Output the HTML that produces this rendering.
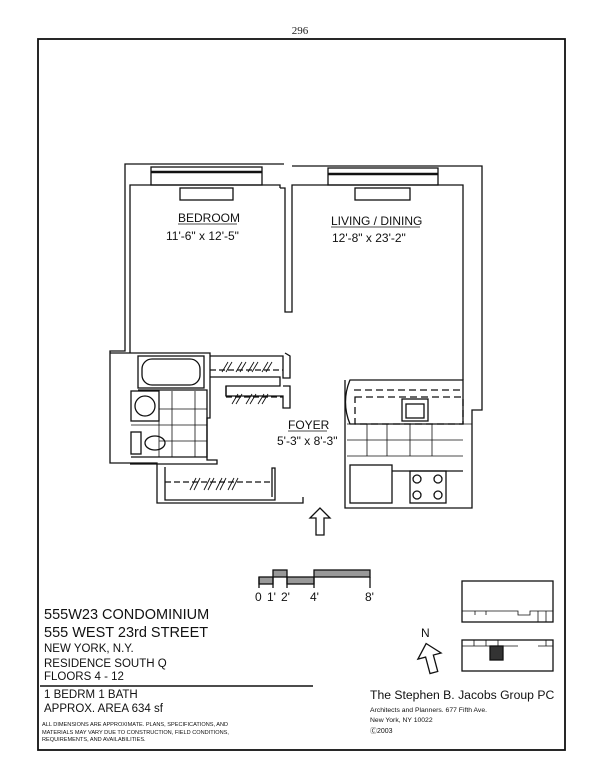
<!DOCTYPE html>
<html><head><meta charset="utf-8"><style>
body{margin:0;background:#fff;width:600px;height:776px;overflow:hidden;font-family:"Liberation Sans",sans-serif}
svg{position:absolute;left:0;top:0}
</style></head><body>
<svg width="600" height="776" viewBox="0 0 600 776" font-family="Liberation Sans, sans-serif" fill="none" stroke="#111" stroke-width="1.3">
<text x="300" y="34" font-family="Liberation Serif, serif" font-size="11" fill="#222" stroke="none" text-anchor="middle">296</text>
<rect x="38" y="39" width="527" height="711" stroke-width="1.8"/>
<polyline points="284,164 125,164 125,351 110,351 110,463 157,463 157,503 303,503 303,497"/>
<polyline points="345,380 345,508 472,508 472,410 482,410 482,166 292,166"/>
<polyline points="280,188 280,185 130,185 130,353"/>
<polyline points="292,188 292,185 463,185 463,380"/>
<polyline points="280,188 285,188 285,312 292,312 292,188"/>
<rect x="151" y="167" width="111" height="18"/>
<line x1="151" y1="172" x2="262" y2="172" stroke-width="2.5"/>
<rect x="328" y="168" width="110" height="17"/>
<line x1="328" y1="174" x2="438" y2="174" stroke-width="2.5"/>
<rect x="180" y="188" width="53" height="12"/>
<rect x="355" y="188" width="55" height="12"/>
<polyline points="110,353 210,353 210,418 207,418 207,460 217,460 217,464 130,464"/>
<rect x="138" y="356" width="66" height="32"/>
<rect x="142" y="359" width="58" height="26" rx="10"/>
<polyline points="138,390 207,390 207,457 131,457"/>
<rect x="131" y="391" width="28" height="30"/>
<circle cx="145" cy="406" r="10"/>
<rect x="131" y="432" width="10" height="22"/>
<ellipse cx="155" cy="443" rx="10" ry="7"/>
<path d="M159 395V457M172 391V457M195 391V457M159 409H207M131 425H207M159 441H207" stroke-width="0.8"/>
<polyline points="210,356 283,356 283,378 290,378 290,356 285,353"/>
<line x1="210" y1="370" x2="283" y2="370" stroke-dasharray="6,3"/>
<polyline points="210,377 280,377 280,386 226,386 226,396"/>
<polyline points="226,386 226,396 283,396 283,408 290,408 290,386 283,386"/>
<line x1="226" y1="397" x2="283" y2="397" stroke-dasharray="6,3"/>
<polyline points="165,467 165,500 275,500 275,468 272,468 272,497"/>
<line x1="165" y1="482" x2="270" y2="482" stroke-dasharray="6,3"/>
<path d="M222 372l6-10M226 372l6-10M236 372l6-10M240 372l6-10M248 372l6-10M252 372l6-10M262 372l6-10M266 372l6-10M232 404l6-10M236 404l6-10M246 404l6-10M250 404l6-10M258 404l6-10M262 404l6-10M190 490l6-12M194 490l6-12M204 490l6-12M208 490l6-12M216 490l6-12M220 490l6-12M228 490l6-12M232 490l6-12" stroke-width="0.9"/>
<path d="M350 380H463V424H350C344 410 344 394 350 380Z"/>
<line x1="354" y1="390" x2="463" y2="390" stroke-dasharray="7,4"/>
<rect x="355" y="397" width="108" height="27" stroke-dasharray="7,4"/>
<rect x="402" y="399" width="26" height="22"/>
<rect x="406" y="404" width="18" height="14"/>
<path d="M347 424H472M347 440H463M347 456H463M367 424V456M387 424V456M410 424V456M432 424V456" stroke-width="0.8"/>
<rect x="350" y="465" width="42" height="38"/>
<rect x="410" y="471" width="36" height="32"/>
<circle cx="417" cy="479" r="4"/><circle cx="438" cy="479" r="4"/>
<circle cx="417" cy="495" r="4"/><circle cx="438" cy="495" r="4"/>
<line x1="392" y1="471" x2="463" y2="471"/>
<path d="M320 508L310 518H316V535H324V518H330Z"/>
<g fill="#111" stroke="none" font-size="12">
<text x="178" y="222">BEDROOM</text>
<text x="166" y="240">11'-6" x 12'-5"</text>
<text x="331" y="225">LIVING / DINING</text>
<text x="332" y="242">12'-8" x 23'-2"</text>
<text x="288" y="429">FOYER</text>
<text x="277" y="445">5'-3" x 8'-3"</text>
</g>
<path d="M178 224H237M331 227H420M288 431H327" stroke-width="0.8"/>
<rect x="259" y="577" width="14" height="7" fill="#999"/>
<rect x="273" y="570" width="14" height="7" fill="#999"/>
<rect x="287" y="577" width="27" height="7" fill="#999"/>
<rect x="314" y="570" width="56" height="7" fill="#999"/>
<path d="M259 577V588M273 577V588M287 577V588M314 577V588M370 577V588"/>
<g fill="#111" stroke="none">
<text x="255" y="601" font-size="12">0</text>
<text x="267" y="601" font-size="12">1'</text>
<text x="281" y="601" font-size="12">2'</text>
<text x="310" y="601" font-size="12">4'</text>
<text x="365" y="601" font-size="12">8'</text>
<text x="44" y="619" font-size="14.5">555W23 CONDOMINIUM</text>
<text x="44" y="637" font-size="14.5">555 WEST 23rd STREET</text>
<text x="44" y="652" font-size="11.5">NEW YORK,  N.Y.</text>
<text x="44" y="667" font-size="11.5">RESIDENCE SOUTH Q</text>
<text x="44" y="680" font-size="11.5">FLOORS 4 - 12</text>
<text x="44" y="698" font-size="11.5">1 BEDRM      1 BATH</text>
<text x="44" y="712" font-size="11.5">APPROX.  AREA  634 sf</text>
<text x="42" y="726" font-size="5.6">ALL DIMENSIONS ARE APPROXIMATE.  PLANS, SPECIFICATIONS, AND</text>
<text x="42" y="734" font-size="5.6">MATERIALS MAY VARY DUE TO CONSTRUCTION, FIELD CONDITIONS,</text>
<text x="42" y="741" font-size="5.6">REQUIREMENTS, AND AVAILABILITIES.</text>
<text x="370" y="699" font-size="12.2">The Stephen B. Jacobs Group PC</text>
<text x="370" y="712" font-size="6.8">Architects and Planners.  677 Fifth Ave.</text>
<text x="370" y="722" font-size="6.8">New York,  NY 10022</text>
<text x="370" y="733" font-size="7">Ⓒ2003</text>
<text x="421" y="637" font-size="12">N</text>
</g>
<line x1="40" y1="686" x2="313" y2="686" stroke-width="1.5"/>
<path d="M430 643L418 656H426V673H434V656H442Z" transform="rotate(-15 430 658)"/>
<rect x="462" y="581" width="91" height="41"/>
<path d="M462 611H518V615H530V611H538V622M538 611H553M475 611V615M486 611V615M546 611V622" stroke-width="0.8"/>
<rect x="462" y="640" width="91" height="31"/>
<path d="M462 646H518M474 640V646M486 640V646M498 640V646M538 646H553M546 640V646" stroke-width="0.8"/>
<rect x="490" y="646" width="13" height="14" fill="#333"/>
</svg>
</body></html>
